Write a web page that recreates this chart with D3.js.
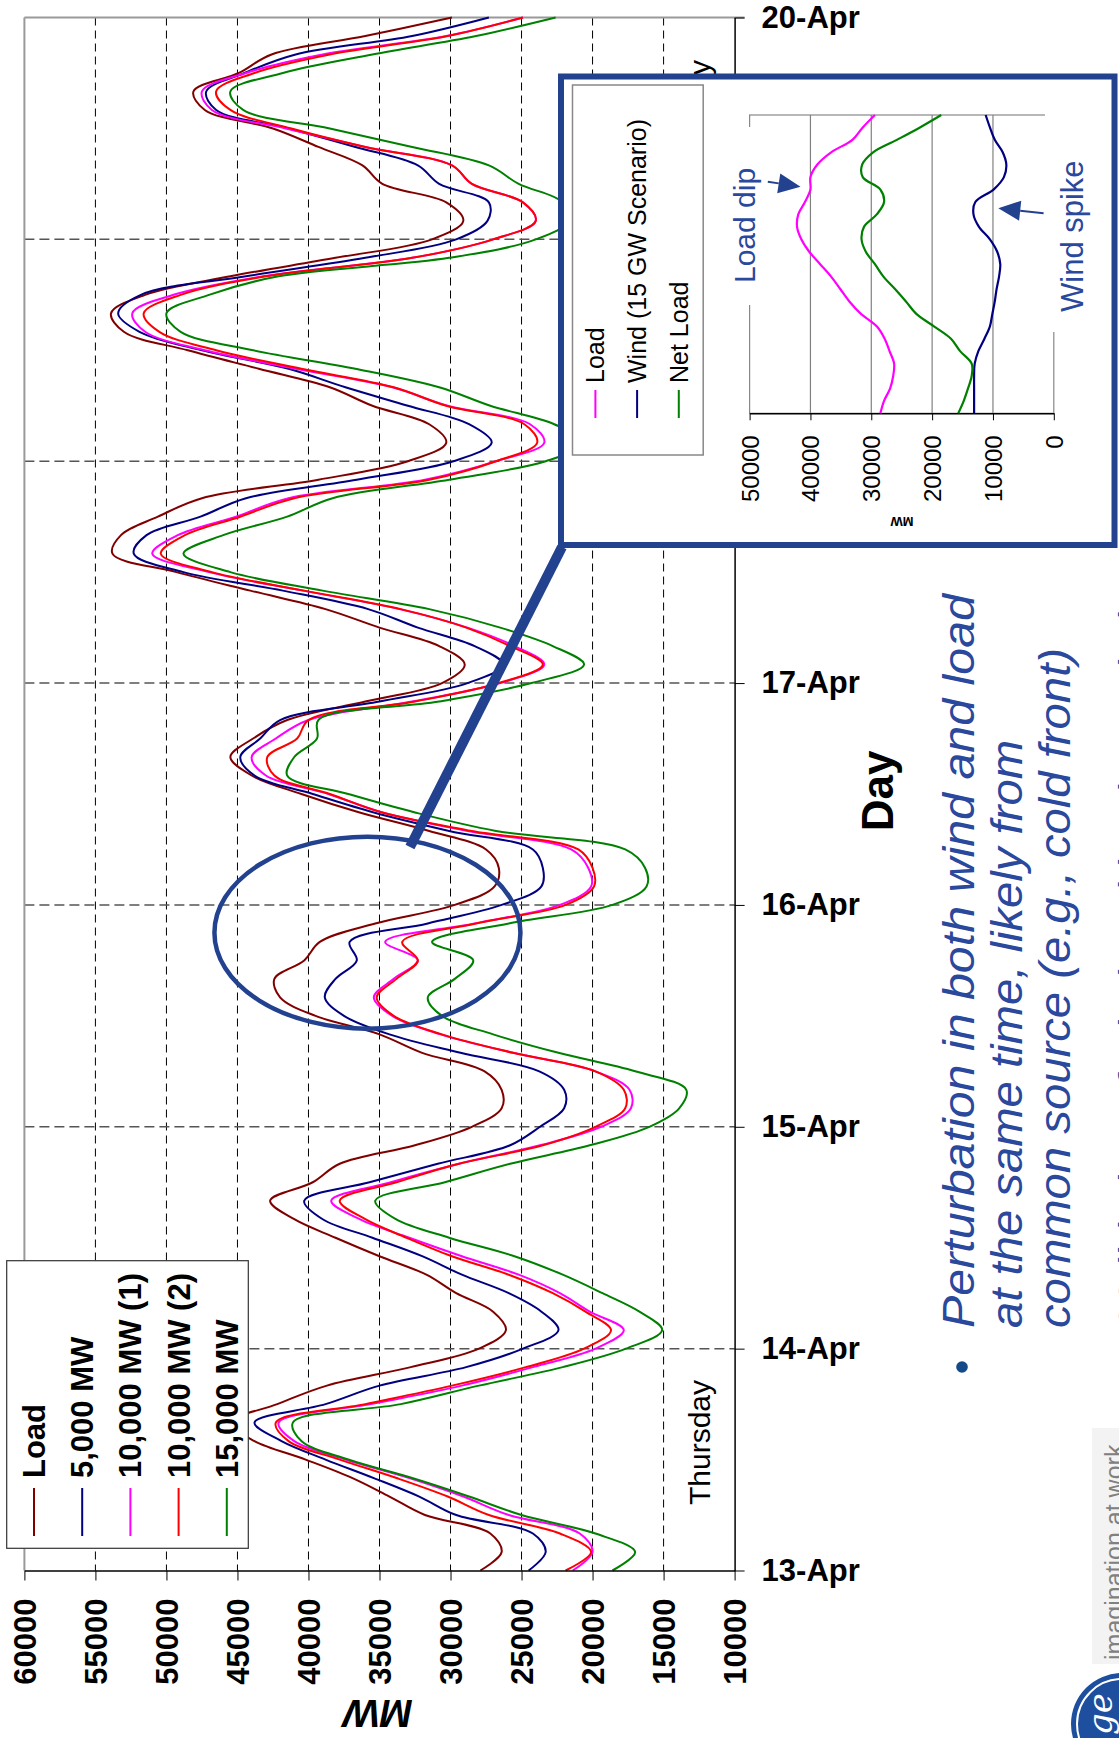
<!DOCTYPE html>
<html>
<head>
<meta charset="utf-8">
<script src="https://cdn.jsdelivr.net/npm/d3@7"></script>
<style>
  body { margin: 0; background: #fff; }
  svg text { font-family: "Liberation Sans", Arial, sans-serif; }
</style>
</head>
<body>
<svg id="chart" width="1119" height="1738"></svg>
<script>
/** hours since 13-Apr 00:00, one reading every two hours */
var hours = d3.range(0, 169, 2);

var loadMW = [27900, 26400, 27200, 31800, 34300, 36900, 40200, 43800, 45500, 42200, 38700, 32800,
  28000, 26100, 27000, 29600, 31700, 35000, 38100, 41000, 42700, 39700, 37800, 32500,
  28500, 26400, 26400, 27600, 32000, 35000, 39500, 42000, 42400, 40300, 39200, 35300,
  29700, 26900, 26600, 27500, 31500, 36400, 40500, 44000, 45500, 43900, 41500, 36000,
  30600, 29000, 30800, 35000, 38800, 44100, 49300, 53800, 53200, 50600, 47500, 39300,
  33000, 30300, 31500, 35500, 38500, 43500, 48500, 53000, 53900, 51500, 45500, 38100,
  31300, 29100, 30300, 34800, 36200, 39300, 42500, 47300, 48100, 44900, 42600, 36000, 29900];

var wind5000 = [24500, 23300, 24200, 29600, 32200, 35400, 38800, 41900, 43800, 38800, 35000, 28900,
  24900, 22400, 23600, 25900, 29200, 32000, 35500, 39000, 40300, 35700, 30900, 25800,
  23700, 22000, 22000, 23750, 29300, 34300, 37500, 38850, 38100, 36600, 37100, 31600,
  26400, 23600, 23500, 24200, 30100, 35400, 39700, 43800, 44800, 43400, 42000, 35000,
  28800, 26300, 28300, 32300, 35800, 41800, 48800, 52300, 51400, 47600, 44400, 36600,
  29800, 27100, 28700, 33000, 37400, 41400, 47500, 51900, 53400, 51800, 44400, 36000,
  29600, 27400, 27300, 30800, 32300, 36700, 41400, 46500, 47200, 44500, 40900, 32700, 27300];

var wind10000a = [21400, 20000, 20900, 25900, 29100, 32900, 37400, 41000, 42100, 35600, 29200, 24200,
  19800, 17800, 20200, 22300, 25200, 29200, 32900, 36400, 38400, 34200, 29400, 23700,
  19400, 17300, 17400, 19800, 25600, 30700, 34100, 35400, 34000, 32300, 34600, 28300,
  22300, 20100, 20300, 21500, 28800, 34800, 38600, 43000, 44000, 42300, 40000, 32700,
  26500, 23400, 25500, 28800, 33600, 40400, 47000, 51000, 49200, 45100, 41400, 31800,
  26800, 23400, 24400, 30200, 34100, 40900, 47300, 51500, 52400, 49500, 43200, 32700,
  27000, 24000, 24900, 28500, 29900, 36000, 41600, 46800, 47500, 44400, 39000, 30300, 24900];

var wind10000b = [21900, 20100, 22300, 27300, 30200, 33800, 37800, 41400, 42300, 36000, 29900, 24700,
  20600, 18700, 20500, 22800, 25900, 29900, 33100, 36000, 37800, 33800, 29400, 23500,
  19800, 17700, 17800, 19800, 25600, 30600, 34000, 35200, 33800, 32300, 33400, 28200,
  21900, 19900, 20000, 21000, 28500, 34800, 38500, 42400, 42900, 40800, 40000, 32500,
  26600, 23500, 25800, 28900, 33500, 40300, 46800, 50400, 48700, 44800, 41000, 31500,
  26800, 23900, 24800, 30300, 34000, 40500, 46500, 50500, 51600, 49000, 43000, 32700,
  27000, 24000, 24900, 28500, 29900, 36000, 41200, 45500, 46500, 43800, 38500, 30200, 24900];

var wind15000 = [18600, 17000, 19800, 25000, 28700, 32700, 37200, 40500, 41100, 33500, 28000, 22100,
  17650, 15100, 16700, 19300, 22100, 25500, 30100, 33850, 35300, 30400, 25800, 20200,
  16000, 13900, 13400, 17000, 22400, 27000, 30600, 31600, 29700, 28400, 31300, 25900,
  18600, 16200, 16300, 17700, 26800, 32500, 37200, 41500, 41000, 39400, 39300, 30800,
  24300, 20600, 22800, 26500, 31500, 39000, 45500, 48800, 46000, 41500, 38300, 30100,
  23300, 20500, 22700, 27200, 30800, 36700, 43900, 49000, 50000, 47000, 42100, 30100,
  24000, 21700, 22100, 25200, 27300, 32700, 38500, 44600, 45500, 41800, 35500, 28200, 22600];

var seriesNames = ['Load', '5,000 MW', '10,000 MW (1)', '10,000 MW (2)', '15,000 MW'];
var seriesColors = ['#800000', '#000080', '#ff00ff', '#ff0000', '#008000'];

var dayHours = [0, 24, 48, 72, 96, 120, 144, 168];
var dayLabels = ['13-Apr', '14-Apr', '15-Apr', '16-Apr', '17-Apr', '18-Apr', '19-Apr', '20-Apr'];
var mwTicks = [60000, 55000, 50000, 45000, 40000, 35000, 30000, 25000, 20000, 15000, 10000];

/** inset: one day around the cold front, hourly */
var insetSteps = d3.range(0, 25);
var insetLoad = [28500, 27900, 26900, 26400, 26250, 27000, 27800, 29100, 31700, 33600, 35100, 36600,
  38400, 40200, 41500, 42200, 42000, 40900, 40000, 40000, 38900, 36600, 33100, 31400, 29400];
var insetWind = [13100, 13100, 13100, 13100, 13000, 12400, 11400, 10500, 10100, 9700, 9400, 9000,
  8800, 9300, 10500, 12300, 13200, 12900, 9900, 8200, 7800, 8400, 9700, 10500, 11200];
var insetNetLoad = [15700, 14800, 14100, 13500, 13500, 15400, 16900, 19700, 22600, 24300, 26100, 28000,
  29400, 30900, 31600, 31200, 29100, 27900, 28500, 31400, 31500, 29700, 25800, 22000, 18500];
var insetTicks = [50000, 40000, 30000, 20000, 10000, 0];
var insetNames = ['Load', 'Wind (15 GW Scenario)', 'Net Load'];
var insetColors = ['#ff00ff', '#000080', '#008000'];

var bulletLines = ['Perturbation in both wind and load', 'at the same time, likely from',
  'common source (e.g., cold front)'];

var blue = '#22418f';
var textBlue = '#2a489c';

d3.select(window).on('load', init);

function init() {
    var svg = d3.select('#chart');
    svg.append('rect').attr('width', 1119).attr('height', 1738).attr('fill', '#fff');

    var x = d3.scaleLinear().domain([60000, 10000]).range([24.4, 734.6]);
    var y = d3.scaleLinear().domain([0, 168]).range([1570.5, 17.5]);

    // grid
    var grid = svg.append('g');
    grid.selectAll('line.v')
        .data(mwTicks.slice(1, -1))
        .enter().append('line')
        .attr('x1', function (d) { return x(d); })
        .attr('x2', function (d) { return x(d); })
        .attr('y1', y(168)).attr('y2', y(0))
        .attr('stroke', '#000').attr('stroke-dasharray', '8,5');
    grid.selectAll('line.h')
        .data(dayHours.slice(1, -1))
        .enter().append('line')
        .attr('x1', x(60000)).attr('x2', x(10000))
        .attr('y1', function (d) { return y(d); })
        .attr('y2', function (d) { return y(d); })
        .attr('stroke', '#555').attr('stroke-width', 1.5).attr('stroke-dasharray', '10,5');
    grid.append('line').attr('x1', x(60000)).attr('x2', x(60000)).attr('y1', y(168)).attr('y2', y(0))
        .attr('stroke', '#999').attr('stroke-width', 2);
    grid.append('line').attr('x1', x(60000)).attr('x2', x(10000) + 10).attr('y1', y(168)).attr('y2', y(168))
        .attr('stroke', '#999').attr('stroke-width', 2);

    // weekday notes
    svg.append('text')
        .attr('transform', 'translate(710,1505) rotate(-90)')
        .style('font-size', '30px')
        .text('Thursday');
    svg.append('text')
        .attr('transform', 'translate(710,60) rotate(-90)')
        .style('font-size', '30px')
        .style('text-anchor', 'end')
        .text('Wednesday');

    // curves
    var line = d3.line()
        .x(function (d) { return x(d.mw); })
        .y(function (d) { return y(d.h); })
        .curve(d3.curveCatmullRom);

    var allSeries = [loadMW, wind5000, wind10000a, wind10000b, wind15000];
    allSeries.forEach(function (vals, k) {
        var pts = hours.map(function (h, i) { return { h: h, mw: vals[i] }; });
        svg.append('path')
            .datum(pts)
            .attr('d', line)
            .attr('fill', 'none')
            .attr('stroke', seriesColors[k])
            .attr('stroke-width', 2);
    });

    // axes
    var gx = svg.append('g')
        .attr('transform', 'translate(0,1570.5)')
        .call(d3.axisBottom(x).tickValues(mwTicks).tickSize(10).tickSizeOuter(0).tickFormat(d3.format('d')));
    gx.select('.domain').attr('stroke-width', 1.5);
    gx.selectAll('text')
        .attr('transform', 'rotate(-90)')
        .attr('x', -28).attr('y', 0).attr('dy', '0.35em')
        .attr('fill', '#000')
        .style('text-anchor', 'end')
        .style('font-size', '31px')
        .style('font-weight', 'bold');

    var gy = svg.append('g')
        .attr('transform', 'translate(734.6,0)')
        .call(d3.axisRight(y).tickValues(dayHours).tickSize(10).tickSizeOuter(0).tickPadding(17)
            .tickFormat(function (d, i) { return dayLabels[i]; }));
    gy.select('.domain').attr('stroke-width', 1.5);
    gy.selectAll('text')
        .attr('fill', '#000')
        .style('font-size', '31px')
        .style('font-weight', 'bold');

    // legend
    var leg = svg.append('g');
    leg.append('rect')
        .attr('x', 6.7).attr('y', 1260.7).attr('width', 241.6).attr('height', 287.6)
        .attr('fill', '#fff').attr('stroke', '#333').attr('stroke-width', 1.2);
    seriesNames.forEach(function (name, i) {
        var lx = 34 + i * 48.2;
        leg.append('line')
            .attr('x1', lx).attr('x2', lx).attr('y1', 1488).attr('y2', 1536)
            .attr('stroke', seriesColors[i]).attr('stroke-width', 2);
        leg.append('text')
            .attr('transform', 'translate(' + (lx + 11) + ',1478) rotate(-90)')
            .style('font-size', '31px').style('font-weight', 'bold')
            .text(name);
    });

    // axis titles
    svg.append('text')
        .attr('transform', 'translate(378,1714) rotate(180)')
        .attr('dy', '0.35em')
        .style('text-anchor', 'middle')
        .style('font-size', '39px').style('font-weight', 'bold').style('font-style', 'italic')
        .text('MW');
    svg.append('text')
        .attr('transform', 'translate(893,791) rotate(-90)')
        .style('text-anchor', 'middle')
        .style('font-size', '44px').style('font-weight', 'bold')
        .text('Day');

    // ring round the perturbation and callout
    svg.append('ellipse')
        .attr('cx', x(35850)).attr('cy', y(69))
        .attr('rx', 153).attr('ry', 96)
        .attr('fill', 'none').attr('stroke', blue).attr('stroke-width', 4.5);
    svg.append('line')
        .attr('x1', 410).attr('y1', 847).attr('x2', 562).attr('y2', 547)
        .attr('stroke', blue).attr('stroke-width', 10);

    drawInset(svg);
    drawNotes(svg);
}

function arrow(g, x1, y1, x2, y2) {
    var dx = x2 - x1, dy = y2 - y1, len = Math.sqrt(dx * dx + dy * dy);
    var ux = dx / len, uy = dy / len, hl = 22, hw = 10;
    var bx = x2 - ux * hl, by = y2 - uy * hl;
    g.append('line').attr('x1', x1).attr('y1', y1).attr('x2', bx).attr('y2', by)
        .attr('stroke', blue).attr('stroke-width', 2);
    g.append('polygon')
        .attr('points', [[x2, y2], [bx - uy * hw, by + ux * hw], [bx + uy * hw, by - ux * hw]].join(' '))
        .attr('fill', blue);
}

function drawInset(svg) {
    var g = svg.append('g');
    g.append('rect')
        .attr('x', 561).attr('y', 76.5).attr('width', 553.5).attr('height', 468.5)
        .attr('fill', '#fff').attr('stroke', blue).attr('stroke-width', 6);

    // legend
    g.append('rect')
        .attr('x', 572.5).attr('y', 85).attr('width', 130.7).attr('height', 370)
        .attr('fill', '#fff').attr('stroke', '#888').attr('stroke-width', 1.5);
    insetNames.forEach(function (name, i) {
        var lx = 595.4 + i * 41.7;
        g.append('line').attr('x1', lx).attr('x2', lx).attr('y1', 390).attr('y2', 418)
            .attr('stroke', insetColors[i]).attr('stroke-width', 2);
        g.append('text')
            .attr('transform', 'translate(' + (lx + 9) + ',383) rotate(-90)')
            .style('font-size', '25px')
            .text(name);
    });

    var ix = d3.scaleLinear().domain([50000, 0]).range([749.6, 1053.8]);
    var iy = d3.scaleLinear().domain([0, 24]).range([413.3, 115]);

    g.append('rect')
        .attr('x', ix(50000)).attr('y', iy(24))
        .attr('width', ix(0) - ix(50000)).attr('height', iy(0) - iy(24))
        .attr('fill', 'none').attr('stroke', '#888').attr('stroke-width', 1.2);
    g.selectAll('line.ig')
        .data(insetTicks.slice(1, -1))
        .enter().append('line')
        .attr('x1', function (d) { return ix(d); })
        .attr('x2', function (d) { return ix(d); })
        .attr('y1', iy(24)).attr('y2', iy(0))
        .attr('stroke', '#808080').attr('stroke-width', 1.2);

    var gx = g.append('g')
        .attr('transform', 'translate(0,' + iy(0) + ')')
        .call(d3.axisBottom(ix).tickValues(insetTicks).tickSize(7).tickSizeOuter(0).tickFormat(d3.format('d')));
    gx.select('.domain').attr('stroke-width', 1.5);
    gx.selectAll('text')
        .attr('transform', 'rotate(-90)')
        .attr('x', -22).attr('y', 0).attr('dy', '0.35em')
        .attr('fill', '#000')
        .style('text-anchor', 'end')
        .style('font-size', '24px');

    g.append('text')
        .attr('transform', 'translate(902,522) rotate(180)')
        .attr('dy', '0.35em')
        .style('text-anchor', 'middle')
        .style('font-size', '13px').style('font-weight', 'bold')
        .text('MW');

    var iline = d3.line()
        .x(function (d) { return ix(d.mw); })
        .y(function (d) { return iy(d.t); })
        .curve(d3.curveCatmullRom);
    [insetLoad, insetWind, insetNetLoad].forEach(function (vals, k) {
        g.append('path')
            .datum(insetSteps.map(function (t, i) { return { t: t, mw: vals[i] }; }))
            .attr('d', iline)
            .attr('fill', 'none')
            .attr('stroke', insetColors[k])
            .attr('stroke-width', 2.2);
    });

    // callout labels
    g.append('rect').attr('x', 726).attr('y', 127).attr('width', 38).attr('height', 178).attr('fill', '#fff');
    g.append('text')
        .attr('transform', 'translate(755,283) rotate(-90)')
        .attr('fill', textBlue)
        .style('font-size', '30px')
        .text('Load dip');
    arrow(g, 767.8, 181.7, 800.5, 186.7);

    g.append('rect').attr('x', 1045).attr('y', 100).attr('width', 60).attr('height', 232).attr('fill', '#fff');
    g.append('text')
        .attr('transform', 'translate(1083,312) rotate(-90)')
        .attr('fill', textBlue)
        .style('font-size', '31px')
        .text('Wind spike');
    arrow(g, 1043.6, 213.3, 998.3, 208.3);
}

function drawNotes(svg) {
    var base = [974, 1022, 1070];
    var lens = [734, 588, 680];
    bulletLines.forEach(function (t, i) {
        svg.append('text')
            .attr('transform', 'translate(' + base[i] + ',1328) rotate(-90)')
            .attr('textLength', lens[i])
            .attr('lengthAdjust', 'spacingAndGlyphs')
            .attr('fill', textBlue)
            .style('font-size', '45px').style('font-style', 'italic')
            .text(t);
    });
    svg.append('circle').attr('cx', 962).attr('cy', 1367).attr('r', 5.8).attr('fill', '#144a88');
    // next bullet runs off the slide edge, as in the source
    svg.append('text')
        .attr('transform', 'translate(1150,1322) rotate(-90)')
        .attr('fill', textBlue)
        .style('font-size', '45px').style('font-style', 'italic')
        .text('Validation of wind and load correlation');

    // logo corner
    svg.append('rect').attr('x', 1092).attr('y', 1428).attr('width', 27).attr('height', 236).attr('fill', '#f3f3f3');
    svg.append('text')
        .attr('transform', 'translate(1123,1660) rotate(-90)')
        .attr('fill', '#808080')
        .style('font-size', '25px')
        .text('imagination at work');
    svg.append('circle').attr('cx', 1122).attr('cy', 1724).attr('r', 51).attr('fill', '#1d4f9e');
    svg.append('circle').attr('cx', 1122).attr('cy', 1724).attr('r', 45).attr('fill', 'none')
        .attr('stroke', '#fff').attr('stroke-width', 2);
    svg.append('text')
        .attr('transform', 'translate(1112,1735) rotate(-90)')
        .attr('fill', '#fff')
        .style('font-size', '34px').style('font-style', 'italic').style('font-family', 'DejaVu Serif')
        .text('ge');
}
</script>
</body>
</html>
